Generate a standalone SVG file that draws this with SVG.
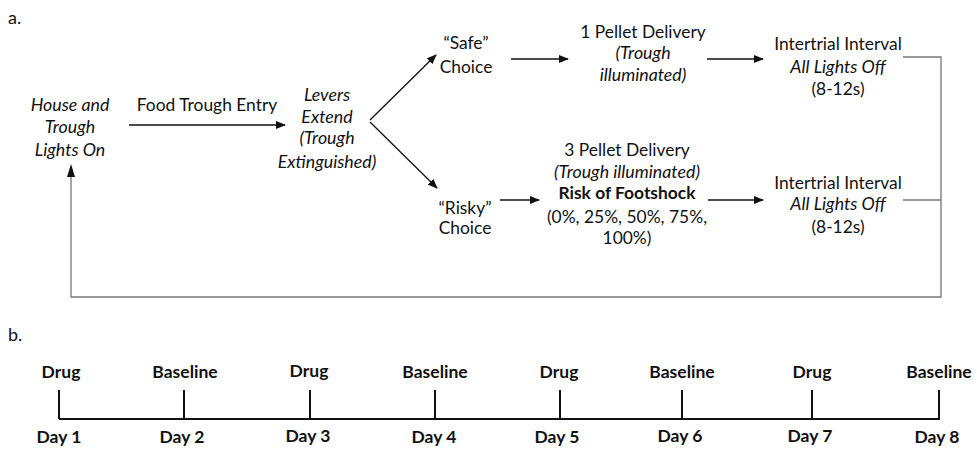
<svg xmlns="http://www.w3.org/2000/svg" width="977" height="451" viewBox="0 0 977 451">
<style>
text{font-family:Lato,"Liberation Sans",sans-serif;font-size:17.4px;fill:#111;text-anchor:middle}
.i{font-style:italic;font-size:17.8px}
.b{font-weight:bold}
.lbl{text-anchor:start;font-size:18px}
.tl text{font-weight:bold;font-size:17.5px}
.arr{stroke:#111;stroke-width:1.3;fill:none;marker-end:url(#ah)}
.gl{stroke:#777;stroke-width:1.3;fill:none}
.tk{stroke:#111;stroke-width:2;fill:none}
</style>
<defs>
<marker id="ah" markerWidth="10" markerHeight="8" refX="9" refY="4" orient="auto" markerUnits="userSpaceOnUse">
<path d="M0,0 L10,4 L0,8 z" fill="#111"/>
</marker>
</defs>
<rect width="977" height="451" fill="#fff"/>
<text class="lbl" x="8" y="24">a.</text>
<text class="lbl" x="8" y="341">b.</text>

<g id="connectors">
<line class="arr" x1="129" y1="125" x2="285" y2="125"/>
<line class="arr" x1="370" y1="120" x2="436" y2="55"/>
<line class="arr" x1="370" y1="122" x2="437" y2="188"/>
<line class="arr" x1="511" y1="59" x2="568" y2="59"/>
<line class="arr" x1="707" y1="59" x2="763" y2="59"/>
<line class="arr" x1="500" y1="200" x2="539" y2="200"/>
<line class="arr" x1="708" y1="200" x2="763" y2="200"/>
<polyline class="gl" points="903,57 941,57 941,297 71,297 71,175"/>
<line class="gl" x1="903" y1="200" x2="941" y2="200"/>
<path d="M71,164 L75,177 L67,177 z" fill="#111"/>
</g>

<g id="start"><text class="i" x="70" y="111">House and</text><text class="i" x="70" y="133">Trough</text><text class="i" x="70" y="156">Lights On</text></g>
<g id="entry-label"><text x="207" y="111">Food Trough Entry</text></g>
<g id="levers"><text class="i" x="327" y="101">Levers</text><text class="i" x="327" y="123">Extend</text><text class="i" x="327" y="144">(Trough</text><text class="i" x="327" y="168">Extinguished)</text></g>
<g id="safe"><text x="466" y="49">“Safe”</text><text x="466" y="73">Choice</text></g>
<g id="risky"><text x="465" y="214">“Risky”</text><text x="465" y="234">Choice</text></g>
<g id="pellet1"><text x="643" y="38">1 Pellet Delivery</text><text class="i" x="643" y="59">(Trough</text><text class="i" x="643" y="81">illuminated)</text></g>
<g id="iti1"><text x="838" y="50">Intertrial Interval</text><text class="i" x="838" y="73">All Lights Off</text><text x="838" y="95">(8-12s)</text></g>
<g id="pellet3"><text x="627" y="156">3 Pellet Delivery</text><text class="i" x="627" y="178">(Trough illuminated)</text><text class="b" x="627" y="199">Risk of Footshock</text><text x="627" y="223">(0%, 25%, 50%, 75%,</text><text x="627" y="244">100%)</text></g>
<g id="iti2"><text x="838" y="189">Intertrial Interval</text><text class="i" x="838" y="210">All Lights Off</text><text x="838" y="233">(8-12s)</text></g>

<g id="timeline" class="tl">
<path class="tk" d="M59,419 H940 M59,390 V419 M184,390 V419 M310,390 V419 M435,390 V419 M560,390 V419 M682,390 V419 M812,390 V419 M939,390 V419"/>
<text x="61" y="378">Drug</text><text x="185" y="378">Baseline</text><text x="309" y="377">Drug</text><text x="435" y="378">Baseline</text><text x="559" y="378">Drug</text><text x="682" y="378">Baseline</text><text x="812" y="378">Drug</text><text x="939" y="378">Baseline</text>
<text x="59" y="443">Day 1</text><text x="182" y="443">Day 2</text><text x="308" y="442">Day 3</text><text x="434" y="443">Day 4</text><text x="557" y="443">Day 5</text><text x="680" y="442">Day 6</text><text x="810" y="442">Day 7</text><text x="937" y="443">Day 8</text>
</g>
</svg>
